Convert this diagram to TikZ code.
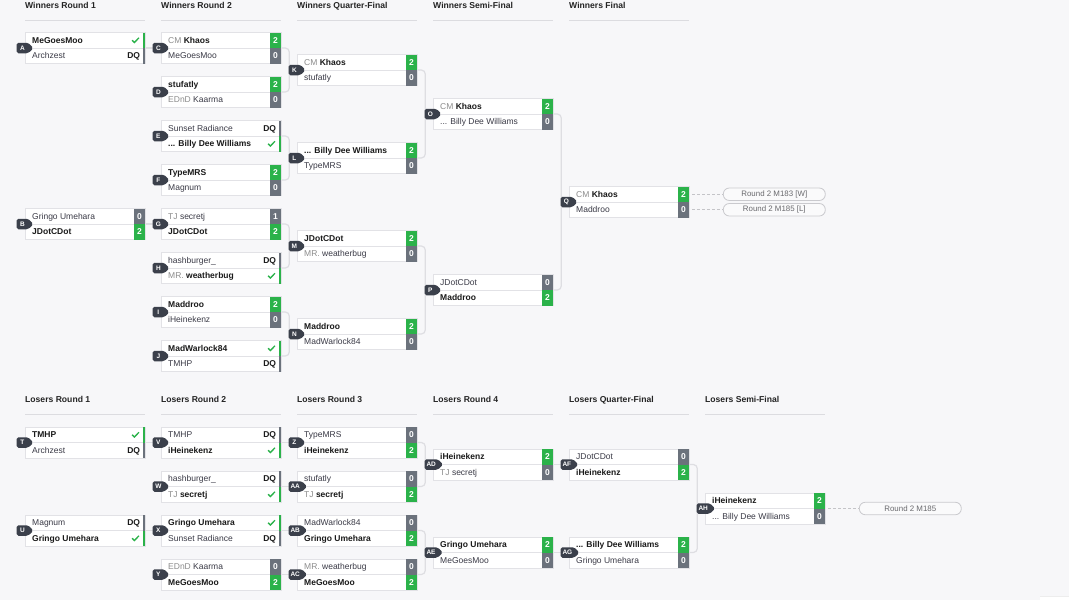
\documentclass[tikz,border=0pt]{standalone}
\usepackage{fontspec}
\setmainfont{Liberation Sans}
\usetikzlibrary{calc,shapes.symbols}
\definecolor{bgcol}{HTML}{F7F7F9}
\definecolor{boxline}{HTML}{E2E2E6}
\definecolor{connline}{HTML}{DEDEE2}
\definecolor{wgreen}{HTML}{2BB24A}
\definecolor{lgray}{HTML}{6B727C}
\definecolor{badgecol}{HTML}{3B404B}
\definecolor{wintext}{HTML}{1A1A1A}
\definecolor{losetext}{HTML}{3A3A46}
\definecolor{pfxcol}{HTML}{8C8C8C}
\definecolor{headtext}{HTML}{242424}
\definecolor{headline}{HTML}{DCDCE0}
\definecolor{dashline}{HTML}{C4C4C8}
\definecolor{pillline}{HTML}{CACACE}
\definecolor{pillfill}{HTML}{FAFAFB}
\definecolor{pilltext}{HTML}{6A6A6E}
\pgfdeclarelayer{back}
\pgfdeclarelayer{bg}
\pgfsetlayers{back,bg,main}
\tikzset{
  matchbox/.style={draw=boxline, fill=white, line width=0.8pt, minimum width=119.5pt, minimum height=31pt, inner sep=0pt, anchor=west},
  rowtext/.style={anchor=base west, inner sep=0pt, font=\fontsize{8.5}{10}\selectfont, text=losetext},
  scorebox/.style={minimum width=11pt, minimum height=15.5pt, inner sep=0pt, text=white, font=\fontsize{8.5}{10}\selectfont\bfseries, anchor=east},
  dqtext/.style={anchor=base east, inner sep=0pt, font=\fontsize{8.5}{10}\selectfont\bfseries, text=wintext},
  tick/.style={draw=wgreen, line width=1.3pt},
  badge/.style={shape=signal, signal to=east, signal from=nowhere, fill=badgecol, text=white, font=\fontsize{6.5}{7}\selectfont\bfseries, minimum height=10.5pt, minimum width=17pt, inner xsep=2pt, inner ysep=0pt, rounded corners=1.8pt, anchor=west},
  conn/.style={draw=connline, line width=1.2pt},
  bracketline/.style={conn, rounded corners=4pt},
  extline/.style={draw=dashline, line width=1pt, dash pattern=on 3pt off 2pt},
  pill/.style={draw=pillline, fill=pillfill, rounded corners=6pt, minimum width=102pt, minimum height=12.5pt, inner sep=0pt, text=pilltext, font=\fontsize{7.9}{9}\selectfont, line width=0.8pt},
  header/.style={anchor=base west, inner sep=0pt, font=\fontsize{8.6}{10}\selectfont\bfseries, text=headtext},
  hline/.style={draw=headline, line width=1pt},
}
\newcommand\wn[1]{{\bfseries\color{wintext}#1}}
\newcommand\pfx[1]{{\color{pfxcol}#1}}
\newcommand\sW[2]{\node[scorebox, fill=wgreen] at (#2) {#1};}
\newcommand\sL[2]{\node[scorebox, fill=lgray] at (#2) {#1};}
\newcommand\sDQ[1]{\fill[lgray] ($(#1)+(-2.6,-7.75)$) rectangle ($(#1)+(0,7.75)$);
  \node[dqtext] at ($(#1)+(-5,3.1)$) {DQ};}
\newcommand\sCK[1]{\fill[wgreen] ($(#1)+(-2.6,-7.75)$) rectangle ($(#1)+(0,7.75)$);
  \draw[tick] ($(#1)+(-13.2,0)$) -- ++(2.3,2.3) -- ++(4.6,-4.8);}
\newcommand\bmatch[8]{%
  \node[matchbox] (#1) at (#2,#3) {};
  \draw[boxline, line width=0.8pt] (#1.west) -- (#1.east);
  \coordinate (#1-r1) at ($(#1.east)+(0,-7.75)$);
  \coordinate (#1-r2) at ($(#1.east)+(0,7.75)$);
  \node[rowtext] (#1-n1) at ($(#1.west)+(7,-4.65)$) {#5};
  \node[rowtext] (#1-n2) at ($(#1.west)+(7,10.85)$) {#7};
  #6{#1-r1}
  #8{#1-r2}
  \node[badge] (#1-lab) at ($(#1.west)+(-8.7,0)$) {#4};
}
\newcommand\bjoin[3]{%
  \draw[bracketline] (#1.east) -- ++(8,0) coordinate (#1-bx) |- (#2.east);
  \draw[conn] (#1-bx |- #3.west) -- (#3.west);
}
\begin{document}
\begin{tikzpicture}[x=1pt,y=-1pt]
\begin{pgfonlayer}{back}
\fill[bgcol] (0,0) rectangle (1069,600);
\end{pgfonlayer}
\useasboundingbox (0,0) rectangle (1069,600);
% headers
\foreach \n/\x/\t in {hW1/25/Winners Round 1, hW2/161/Winners Round 2, hW3/297/Winners Quarter-Final, hW4/433/Winners Semi-Final, hW5/569/Winners Final}{
  \node[header] (\n) at (\x,8) {\t};
  \draw[hline] (\x,20) -- ++(119.5,0);
}
\foreach \n/\x/\t in {hL1/25/Losers Round 1, hL2/161/Losers Round 2, hL3/297/Losers Round 3, hL4/433/Losers Round 4, hL5/569/Losers Quarter-Final, hL6/705/Losers Semi-Final}{
  \node[header] (\n) at (\x,402.3) {\t};
  \draw[hline] (\x,414.3) -- ++(119.5,0);
}
% winners bracket
\bmatch{A}{25}{48}{A}{\wn{MeGoesMoo}}{\sCK}{Archzest}{\sDQ}
\bmatch{B}{25}{224}{B}{Gringo Umehara}{\sL{0}}{\wn{JDotCDot}}{\sW{2}}
\bmatch{C}{161}{48}{C}{\pfx{CM} \wn{Khaos}}{\sW{2}}{MeGoesMoo}{\sL{0}}
\bmatch{D}{161}{92}{D}{\wn{stufatly}}{\sW{2}}{\pfx{EDnD} Kaarma}{\sL{0}}
\bmatch{E}{161}{136}{E}{Sunset Radiance}{\sDQ}{\wn{... Billy Dee Williams}}{\sCK}
\bmatch{F}{161}{180}{F}{\wn{TypeMRS}}{\sW{2}}{Magnum}{\sL{0}}
\bmatch{G}{161}{224}{G}{\pfx{TJ} secretj}{\sL{1}}{\wn{JDotCDot}}{\sW{2}}
\bmatch{H}{161}{268}{H}{hashburger\_}{\sDQ}{\pfx{MR.} \wn{weatherbug}}{\sCK}
\bmatch{I}{161}{312}{I}{\wn{Maddroo}}{\sW{2}}{iHeinekenz}{\sL{0}}
\bmatch{J}{161}{356}{J}{\wn{MadWarlock84}}{\sCK}{TMHP}{\sDQ}
\bmatch{K}{297}{70}{K}{\pfx{CM} \wn{Khaos}}{\sW{2}}{stufatly}{\sL{0}}
\bmatch{L}{297}{158}{L}{\wn{... Billy Dee Williams}}{\sW{2}}{TypeMRS}{\sL{0}}
\bmatch{M}{297}{246}{M}{\wn{JDotCDot}}{\sW{2}}{\pfx{MR.} weatherbug}{\sL{0}}
\bmatch{N}{297}{334}{N}{\wn{Maddroo}}{\sW{2}}{MadWarlock84}{\sL{0}}
\bmatch{O}{433}{114}{O}{\pfx{CM} \wn{Khaos}}{\sW{2}}{... Billy Dee Williams}{\sL{0}}
\bmatch{P}{433}{290}{P}{JDotCDot}{\sL{0}}{\wn{Maddroo}}{\sW{2}}
\bmatch{Q}{569}{202}{Q}{\pfx{CM} \wn{Khaos}}{\sW{2}}{Maddroo}{\sL{0}}
% losers bracket
\bmatch{T}{25}{442.5}{T}{\wn{TMHP}}{\sCK}{Archzest}{\sDQ}
\bmatch{U}{25}{530.5}{U}{Magnum}{\sDQ}{\wn{Gringo Umehara}}{\sCK}
\bmatch{V}{161}{442.5}{V}{TMHP}{\sDQ}{\wn{iHeinekenz}}{\sCK}
\bmatch{W}{161}{486.5}{W}{hashburger\_}{\sDQ}{\pfx{TJ} \wn{secretj}}{\sCK}
\bmatch{X}{161}{530.5}{X}{\wn{Gringo Umehara}}{\sCK}{Sunset Radiance}{\sDQ}
\bmatch{Y}{161}{574.5}{Y}{\pfx{EDnD} Kaarma}{\sL{0}}{\wn{MeGoesMoo}}{\sW{2}}
\bmatch{Z}{297}{442.5}{Z}{TypeMRS}{\sL{0}}{\wn{iHeinekenz}}{\sW{2}}
\bmatch{AA}{297}{486.5}{AA}{stufatly}{\sL{0}}{\pfx{TJ} \wn{secretj}}{\sW{2}}
\bmatch{AB}{297}{530.5}{AB}{MadWarlock84}{\sL{0}}{\wn{Gringo Umehara}}{\sW{2}}
\bmatch{AC}{297}{574.5}{AC}{\pfx{MR.} weatherbug}{\sL{0}}{\wn{MeGoesMoo}}{\sW{2}}
\bmatch{AD}{433}{464.5}{AD}{\wn{iHeinekenz}}{\sW{2}}{\pfx{TJ} secretj}{\sL{0}}
\bmatch{AE}{433}{552.5}{AE}{\wn{Gringo Umehara}}{\sW{2}}{MeGoesMoo}{\sL{0}}
\bmatch{AF}{569}{464.5}{AF}{JDotCDot}{\sL{0}}{\wn{iHeinekenz}}{\sW{2}}
\bmatch{AG}{569}{552.5}{AG}{\wn{... Billy Dee Williams}}{\sW{2}}{Gringo Umehara}{\sL{0}}
\bmatch{AH}{705}{508.5}{AH}{\wn{iHeinekenz}}{\sW{2}}{... Billy Dee Williams}{\sL{0}}
% external references
\node[pill] (ext1) at ($(Q-r1)+(85,0)$) {Round 2 M183 [W]};
\node[pill] (ext2) at ($(Q-r2)+(85,0)$) {Round 2 M185 [L]};
\node[pill] (ext3) at ($(AH.east)+(85,0)$) {Round 2 M185};
% connectors
\begin{pgfonlayer}{bg}
\draw[conn] (A.east) -- (C.west);
\draw[conn] (B.east) -- (G.west);
\bjoin{C}{D}{K}
\bjoin{E}{F}{L}
\bjoin{G}{H}{M}
\bjoin{I}{J}{N}
\bjoin{K}{L}{O}
\bjoin{M}{N}{P}
\bjoin{O}{P}{Q}
\draw[conn] (T.east) -- (V.west);
\draw[conn] (U.east) -- (X.west);
\draw[conn] (V.east) -- (Z.west);
\draw[conn] (W.east) -- (AA.west);
\draw[conn] (X.east) -- (AB.west);
\draw[conn] (Y.east) -- (AC.west);
\bjoin{Z}{AA}{AD}
\bjoin{AB}{AC}{AE}
\draw[conn] (AD.east) -- (AF.west);
\draw[conn] (AE.east) -- (AG.west);
\bjoin{AF}{AG}{AH}
\end{pgfonlayer}
\draw[extline] ($(Q-r1)+(3,0)$) -- (ext1.west);
\draw[extline] ($(Q-r2)+(3,0)$) -- (ext2.west);
\draw[extline] ($(AH.east)+(3,0)$) -- (ext3.west);
% corner element
\fill[black!7] (1040,595.5) rectangle (1069,596.5);
\fill[white] (1040,596.5) rectangle (1069,600);
\end{tikzpicture}
\end{document}
